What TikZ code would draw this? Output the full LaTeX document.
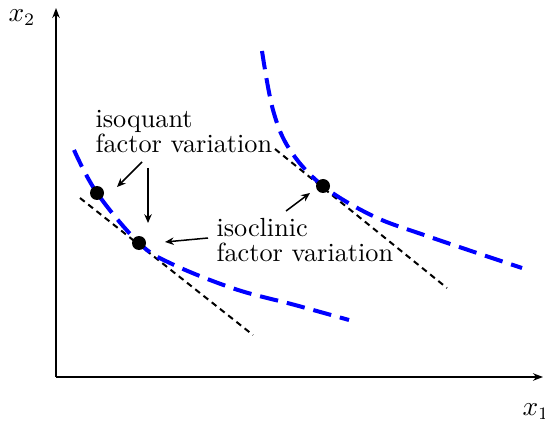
\documentclass[tikz,border=0pt]{standalone}
\usepackage{amsmath}
\usetikzlibrary{arrows.meta}

\begin{document}
\begin{tikzpicture}[
    x=0.4pt, y=-0.4pt,
    % --- Styles ---
    axis/.style={line width=0.8pt, -{Stealth[length=4pt,width=3pt]}},
    isoquant/.style={blue, line width=1.6pt, dash pattern=on 7.4pt off 3.6pt},
    tangent/.style={black, line width=0.8pt, dash pattern=on 2.4pt off 1.8pt},
    point/.style={circle, fill=black, inner sep=0pt, minimum size=5.6pt},
    label text/.style={align=left, inner sep=0pt, font=\fontsize{10.5}{9.8}\selectfont},
    pointer/.style={line width=0.6pt, -{Stealth[length=3.5pt,width=3pt]}}
]
    \useasboundingbox (0,0) rectangle (545,425);

    % --- Axes ---
    \coordinate (origin) at (56,377);
    \coordinate (ytop) at (56,8);
    \coordinate (xend) at (543,377);
    \draw[axis] (origin) -- (ytop);
    \draw[axis] (origin) -- (xend);
    \node[font=\fontsize{10.5}{12}\selectfont] (xtwo) at (22,18) {$x_2$};
    \node[font=\fontsize{10.5}{12}\selectfont] (xone) at (536,412) {$x_1$};

    % --- Tangent lines ---
    \draw[tangent] (80,198) -- (253,335);
    \draw[tangent] (275,149) -- (447,288);

    % --- Isoquants ---
    \draw[isoquant] plot[smooth, tension=0.6] coordinates
        {(74,150) (97,193) (139,243) (172,264) (235,289) (295,305) (349,320)};
    \draw[isoquant] plot[smooth, tension=0.6] coordinates
        {(262,51) (273,110) (290,150) (323,186) (373,216) (427,236) (522,268)};

    % --- Points ---
    \node[point] (qa) at (97,193) {};
    \node[point] (qb) at (139,243) {};
    \node[point] (qc) at (323,186) {};

    % --- Labels ---
    \node[label text, anchor=north west] (quant) at (95,110) {isoquant\\factor variation};
    \node[label text, anchor=north west] (clin) at (216,218) {isoclinic\\factor variation};

    % --- Pointers ---
    \coordinate (pa) at (142,162);
    \coordinate (pb) at (148,168);
    \coordinate (pc) at (208,238);
    \coordinate (pd) at (286,211);
    \draw[pointer] (pa) -- (117,187);
    \draw[pointer] (pb) -- (148,223);
    \draw[pointer] (pc) -- (165,242);
    \draw[pointer] (pd) -- (310,193);

\end{tikzpicture}
\end{document}
